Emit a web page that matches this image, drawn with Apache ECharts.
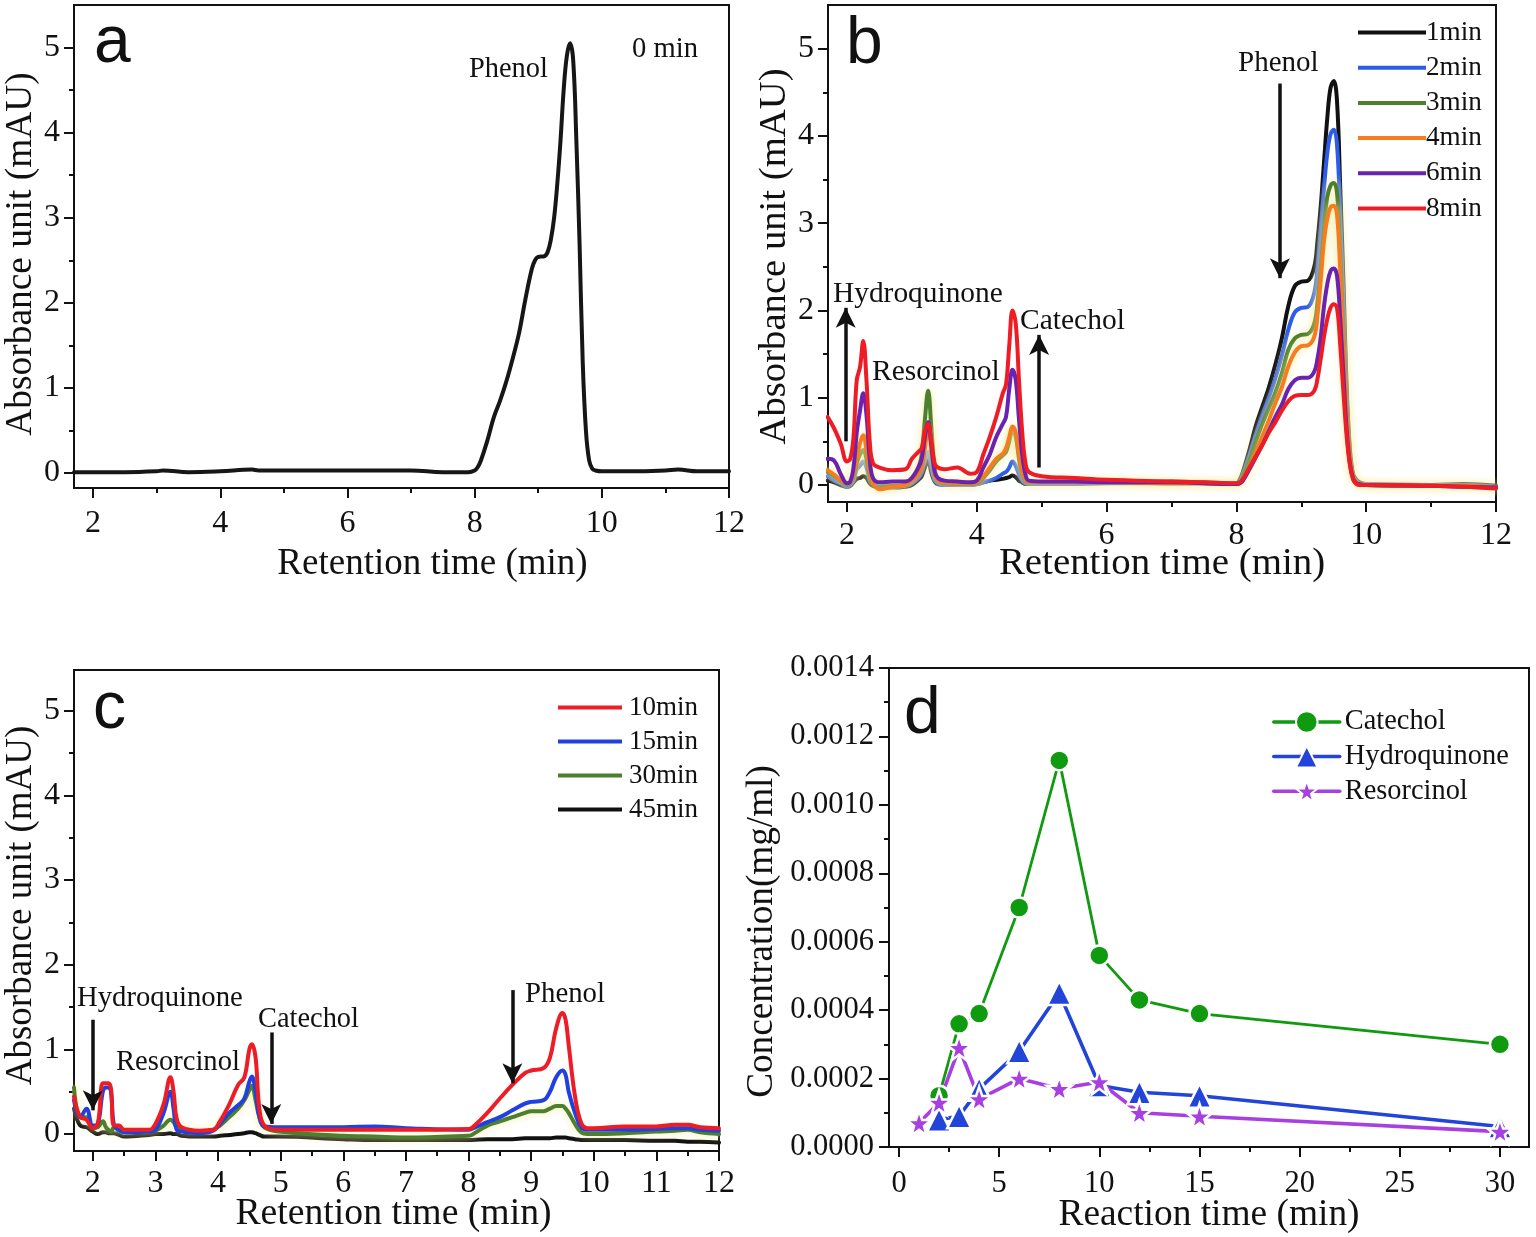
<!DOCTYPE html>
<html><head><meta charset="utf-8">
<script src="https://cdn.jsdelivr.net/npm/echarts@6/dist/echarts.min.js"></script>
<style>html,body{margin:0;padding:0;background:#fff}#c{width:1536px;height:1237px}</style>
</head><body><div id="c"></div>
<script>
// ---------- data ----------
const xA = [1.7,2,2.5,3,3.1,3.5,4,4.5,4.6,5,6,7,7.5,7.9,8,8.05,8.1,8.2,8.3,8.4,8.5,8.6,8.7,8.8,8.9,8.95,9,9.1,9.15,9.2,9.25,9.3,9.35,9.4,9.45,9.5,9.55,9.6,9.65,9.7,9.75,9.8,9.85,9.9,10,10.5,11,11.2,11.5,12];
const yA0 = [.01,.01,.01,.02,.03,.01,.02,.04,.03,.03,.03,.03,.01,.01,.03,.07,.15,.38,.65,.85,1.08,1.35,1.65,2.05,2.4,2.5,2.54,2.55,2.6,2.75,3.0,3.4,3.9,4.5,4.9,5.05,4.85,3.9,2.7,1.3,.5,.15,.05,.03,.02,.02,.03,.04,.02,.02];

const xB = [1.7,1.8,1.9,2.0,2.05,2.1,2.15,2.2,2.25,2.3,2.35,2.4,2.5,2.7,2.9,
 3.0,3.1,3.15,3.2,3.25,3.3,3.35,3.4,3.5,3.7,3.9,
 4.0,4.1,4.2,4.3,4.4,4.45,4.5,4.55,4.6,4.65,4.7,4.75,4.8,
 5,5.5,6,7,7.5,8,
 8.05,8.1,8.2,8.3,8.4,8.5,8.6,8.7,8.8,8.9,9.0,9.1,9.2,9.25,9.3,9.35,9.4,9.45,9.5,
 9.55,9.6,9.65,9.7,9.75,9.8,9.85,9.9,10,11,11.5,12];
const yB1 = [.05,.03,0,-.02,-.01,.03,.07,.08,.1,.08,.02,-.01,-.03,-.03,-.02,
 0,.06,.1,.2,.28,.14,.04,.01,0,0,0,
 .01,.03,.05,.06,.07,.08,.09,.11,.09,.05,.03,.01,.01,
 .01,.02,.03,.04,.03,.02,
 .06,.15,.4,.68,.9,1.12,1.38,1.68,2.05,2.28,2.33,2.34,2.5,2.8,3.2,3.7,4.2,4.55,4.63,
 4.4,3.4,2.3,1.1,.4,.12,.06,.03,.01,0,.01,-.01];
const yB2 = [.1,.05,.02,-.02,0,.05,.18,.22,.27,.2,.06,0,-.02,-.02,-.01,
 .02,.08,.14,.28,.38,.2,.06,.02,0,0,0,
 .01,.03,.05,.08,.13,.15,.2,.27,.22,.12,.05,.02,.01,
 .01,.01,.02,.02,.02,.01,
 .02,.12,.34,.58,.8,1.0,1.22,1.48,1.78,1.98,2.03,2.04,2.2,2.5,2.95,3.4,3.8,4.02,4.07,
 3.9,3.1,2.1,1.0,.35,.1,.04,.02,.01,0,0,-.02];
const yB3 = [.15,.1,.05,0,.02,.1,.25,.35,.4,.3,.1,0,-.02,-.01,0,
 .08,.2,.35,.75,1.08,.65,.2,.06,.02,.01,.01,
 .02,.08,.17,.27,.34,.38,.5,.62,.55,.3,.12,.05,.03,
 .03,.03,.03,.02,.02,.01,
 .02,.1,.28,.5,.7,.88,1.06,1.28,1.55,1.68,1.72,1.73,1.85,2.1,2.5,2.95,3.3,3.43,3.46,
 3.35,2.65,1.75,.85,.32,.09,.03,.01,0,-.01,-.01,-.03];
const yB4 = [.17,.12,.06,.02,.03,.12,.3,.48,.57,.4,.15,.02,-.05,-.02,0,
 .05,.12,.2,.42,.65,.4,.12,.05,.03,.02,.02,
 .03,.1,.2,.3,.36,.42,.55,.67,.6,.35,.15,.06,.03,
 .03,.03,.03,.02,.02,.01,
 .02,.06,.2,.38,.56,.74,.94,1.12,1.36,1.52,1.59,1.6,1.7,1.95,2.35,2.8,3.05,3.18,3.2,
 3.1,2.45,1.6,.8,.3,.08,.03,.01,0,-.01,-.01,-.03];
const yB6 = [.3,.28,.13,.02,.04,.2,.6,.85,1.05,.8,.3,.08,.03,.04,.04,
 .08,.2,.3,.55,.72,.45,.15,.08,.05,.04,.03,
 .05,.2,.35,.55,.7,.78,1.1,1.32,1.2,.75,.35,.12,.05,
 .04,.04,.03,.03,.02,.01,
 .02,.05,.18,.32,.46,.62,.78,.92,1.1,1.2,1.23,1.23,1.3,1.45,1.7,2.05,2.3,2.45,2.48,
 2.4,1.9,1.25,.62,.24,.07,.02,.01,0,-.01,-.02,-.03];
const yB8 = [.78,.65,.48,.27,.3,.55,1.2,1.35,1.65,1.2,.5,.25,.2,.17,.18,
 .3,.38,.42,.62,.7,.5,.25,.2,.18,.2,.13,
 .15,.35,.55,.78,1.05,1.15,1.6,2.0,1.85,1.2,.6,.25,.15,
 .1,.08,.06,.04,.03,.02,
 .03,.07,.2,.33,.46,.6,.72,.85,.96,1.02,1.03,1.03,1.08,1.22,1.45,1.7,1.9,2.03,2.07,
 2.03,1.6,1.05,.55,.22,.06,.01,0,0,-.01,-.02,-.04];

const xC = [1.7,1.8,1.9,2.0,2.08,2.16,2.21,2.25,2.29,2.34,2.42,2.5,2.9,
 3.0,3.13,3.24,3.29,3.34,3.42,3.7,3.92,
 4.03,4.18,4.32,4.42,4.5,4.54,4.6,4.66,4.74,4.97,
 6,6.5,7,8,
 8.05,8.3,8.5,8.7,8.9,9,9.2,9.3,9.4,9.5,9.55,9.6,9.7,9.8,9.9,10,10.5,11,11.3,11.5,11.7,12];
const yC10 = [.44,.2,.17,.07,.12,.6,.6,.6,.54,.1,.1,.05,.05,
 .12,.35,.67,.5,.18,.08,.04,.05,
 .15,.35,.58,.67,1.0,1.06,.9,.3,.1,.05,
 .05,.05,.05,.06,
 .07,.25,.42,.58,.72,.75,.78,.9,1.25,1.43,1.35,1.05,.45,.13,.07,.07,.09,.09,.11,.11,.08,.07];
const yC15 = [.4,.2,.3,.1,.12,.5,.55,.55,.5,.1,.05,.02,.03,
 .05,.25,.5,.3,.05,.03,.01,.04,
 .12,.25,.34,.42,.62,.68,.5,.2,.09,.08,
 .08,.09,.07,.05,
 .06,.14,.2,.28,.36,.38,.4,.5,.67,.75,.7,.5,.25,.08,.05,.05,.05,.06,.07,.07,.05,.04];
const yC30 = [.55,.2,.2,.07,.08,.15,.08,.05,.03,.08,.04,.03,.03,
 .04,.1,.17,.14,.08,.04,.03,.05,
 .1,.2,.3,.4,.52,.57,.4,.2,.08,.03,
 -.02,-.03,-.04,-.02,
 -.01,.1,.15,.2,.25,.27,.27,.3,.33,.33,.3,.25,.12,.02,0,0,.01,.03,.04,.05,.02,0];
const yC45 = [.3,.1,.08,.03,0,.02,.02,.01,.01,.01,-.01,-.03,-.01,
 0,0,.01,0,0,-.02,-.03,-.03,
 -.02,-.01,0,.01,.02,.02,.01,-.01,-.03,-.03,
 -.06,-.07,-.07,-.07,
 -.07,-.06,-.06,-.06,-.05,-.05,-.05,-.05,-.04,-.04,-.04,-.05,-.06,-.07,-.07,-.07,-.07,-.08,-.08,-.09,-.09,-.1];

const xCat = [2,3,4,6,8,10,12,15,30];
const yCat = [.00015,.00036,.00039,.0007,.00113,.00056,.00043,.00039,.0003];
const xHyd = [2,3,4,6,8,10,12,15,30];
const yHyd = [.00008,.00009,.00017,.00028,.00045,.00018,.00016,.00015,.00006];
const xRes = [1,2,3,4,6,8,10,12,15,30];
const yRes = [.00007,.00013,.00029,.00014,.0002,.00017,.00019,.0001,.00009,.000045];

const xMajor = [2,4,6,8,10,12], xMinor = [3,5,7,9,11];
const xMajorC = [2,3,4,5,6,7,8,9,10,11,12], xMinorC = [2.5,3.5,4.5,5.5,6.5,7.5,8.5,9.5,10.5,11.5];
const yMajor = [0,1,2,3,4,5], yMinor = [.5,1.5,2.5,3.5,4.5];
const xMajorD = [0,5,10,15,20,25,30], xMinorD = [2.5,7.5,12.5,17.5,22.5,27.5];
const yMajorD = [0,.0002,.0004,.0006,.0008,.001,.0012,.0014], yMinorD = [.0001,.0003,.0005,.0007,.0009,.0011,.0013];

const arrowsB = [[1.98,.5,1.98,2.03],[4.96,.2,4.96,1.72],[8.67,4.6,8.67,2.37]];
const arrowsC = [[2.0,1.35,2.0,.28],[4.85,1.2,4.85,.12],[8.7,1.7,8.7,.6]];

// ---------- chart ----------
const SERIF = '"Liberation Serif","Times New Roman",serif';
const grids=[], xAxes=[], yAxes=[], series=[], legends=[], graphics=[];
const zip=(x,y)=>x.map((v,i)=>[v,y[i]]);

function panel(o){
  const g=grids.length;
  grids.push({left:o.l,top:o.t,width:o.r-o.l,height:o.b-o.t,show:true,backgroundColor:'transparent',borderColor:'#111',borderWidth:2,containLabel:false,outerBoundsMode:'none'});
  const line={show:false,onZero:false};
  xAxes.push({type:'value',gridIndex:g,position:'bottom',min:o.x0,max:o.x1,splitLine:{show:false},
    axisLine:{show:true,onZero:false,lineStyle:{color:'#111',width:2}},
    axisTick:{show:true,length:10,inside:false,customValues:o.xM,lineStyle:{color:'#111',width:2}},
    axisLabel:{show:true,customValues:o.xM,margin:o.xMargin,color:'#111',fontFamily:SERIF,fontSize:o.tick,formatter:v=>String(v),hideOverlap:false},
    name:o.xName,nameLocation:'middle',nameGap:o.xGap,nameMoveOverlap:false,
    nameTextStyle:{color:'#111',fontFamily:SERIF,fontSize:o.xNameSize,padding:o.xPad||0}});
  xAxes.push({type:'value',gridIndex:g,position:'bottom',min:o.x0,max:o.x1,splitLine:{show:false},axisLine:line,
    axisTick:{show:true,length:5,customValues:o.xm,lineStyle:{color:'#111',width:2}},axisLabel:{show:false}});
  yAxes.push({type:'value',gridIndex:g,position:'left',min:o.y0,max:o.y1,splitLine:{show:false},
    axisLine:{show:true,onZero:false,lineStyle:{color:'#111',width:2}},
    axisTick:{show:true,length:10,customValues:o.yM,lineStyle:{color:'#111',width:2}},
    axisLabel:{show:true,customValues:o.yM,margin:o.yMargin,color:'#111',fontFamily:SERIF,fontSize:o.tick,formatter:o.yFmt||(v=>String(v)),hideOverlap:false},
    name:o.yName,nameLocation:'middle',nameGap:o.yGap,nameRotate:90,nameMoveOverlap:false,
    nameTextStyle:{color:'#111',fontFamily:SERIF,fontSize:o.yNameSize,padding:o.yPad||0}});
  yAxes.push({type:'value',gridIndex:g,position:'left',min:o.y0,max:o.y1,splitLine:{show:false},axisLine:line,
    axisTick:{show:true,length:5,customValues:o.ym,lineStyle:{color:'#111',width:2}},axisLabel:{show:false}});
  return xAxes.length-2;
}
function curve(ax,name,x,y,color,glow){
  series.push({type:'line',name,xAxisIndex:ax,yAxisIndex:ax,data:zip(x,y),showSymbol:false,symbol:'none',
    smooth:.4,color,silent:true,animation:false,
    lineStyle:Object.assign({color,width:4,cap:'round',join:'round'},glow?{shadowColor:'#f4eca0',shadowBlur:9}:{})});
}
function arrows(ax,list){
  series.push({type:'line',xAxisIndex:ax,yAxisIndex:ax,data:[],silent:true,animation:false,
    markLine:{silent:true,animation:false,symbol:['none','arrow'],symbolSize:[15,20],label:{show:false},emphasis:{disabled:true},
      lineStyle:{color:'#111',width:3.5,type:'solid'},
      data:list.map(a=>[{coord:[a[0],a[1]]},{coord:[a[2],a[3]]}])}});
}
function txt(t,x,y,size,fam){
  graphics.push({type:'text',left:x,top:y,silent:true,style:{text:t,fill:'#111',fontFamily:fam||SERIF,fontSize:size}});
}

const A=panel({l:74,r:729,t:5,b:488,x0:1.7,x1:12,y0:-.176,y1:5.5,xM:xMajor,xm:xMinor,yM:yMajor,ym:yMinor,tick:32,
  xMargin:20,yMargin:14,xName:'Retention time (min)',xNameSize:37,xGap:58,xPad:[0,0,0,62],
  yName:'Absorbance unit (mAU)',yNameSize:37.4,yGap:34,yPad:[0,15,0,0]});
curve(A,'0 min',xA,yA0,'#161616');

const B=panel({l:828,r:1496,t:5,b:502,x0:1.707,x1:12,y0:-.195,y1:5.5,xM:xMajor,xm:xMinor,yM:yMajor,ym:yMinor,tick:32,
  xMargin:18,yMargin:14,xName:'Retention time (min)',xNameSize:38.9,xGap:42,
  yName:'Absorbance unit (mAU)',yNameSize:38.7,yGap:34,yPad:[0,6,0,0]});
curve(B,'1min',xB,yB1,'#111111');
curve(B,'2min',xB,yB2,'#2d5ce6');
curve(B,'3min',xB,yB3,'#4c7f2e',true);
curve(B,'4min',xB,yB4,'#f57d20',true);
curve(B,'6min',xB,yB6,'#6a22b0');
curve(B,'8min',xB,yB8,'#ee1c25');
arrows(B,arrowsB);

const C=panel({l:74,r:719,t:670,b:1151,x0:1.7,x1:12,y0:-.2,y1:5.48,xM:xMajorC,xm:xMinorC,yM:yMajor,ym:yMinor,tick:32,
  xMargin:17,yMargin:14,xName:'Retention time (min)',xNameSize:37.7,xGap:44,xPad:[0,6,0,0],
  yName:'Absorbance unit (mAU)',yNameSize:37,yGap:34,yPad:[0,0,0,10]});
curve(C,'45min',xC,yC45,'#111111');
curve(C,'30min',xC,yC30,'#4c7f2e',true);
curve(C,'15min',xC,yC15,'#2040e0');
curve(C,'10min',xC,yC10,'#ee1c25');
arrows(C,arrowsC);

const D=panel({l:889,r:1529,t:668,b:1147,x0:-.5,x1:31.45,y0:0,y1:.0014,xM:xMajorD,xm:xMinorD,yM:yMajorD,ym:yMinorD,tick:30.5,
  xMargin:21,yMargin:15,xName:'Reaction time (min)',xNameSize:37.4,xGap:50,
  yName:'Concentration(mg/ml)',yNameSize:37.2,yGap:108,yPad:[0,48,0,0],yFmt:v=>v.toFixed(4)});
function marked(ax,name,x,y,color,sym,size,lw){
  series.push({type:'line',name,xAxisIndex:ax,yAxisIndex:ax,data:zip(x,y),symbol:sym,symbolSize:size,showSymbol:true,
    silent:true,animation:false,color,
    lineStyle:{color,width:lw,cap:'round'},itemStyle:{color,borderColor:'#fff',borderWidth:2.5}});
}
marked(D,'Catechol',xCat,yCat,'#109a10','circle',20,2.8);
marked(D,'Hydroquinone',xHyd,yHyd,'#2244d8','triangle',24,3.6);
marked(D,'Resorcinol',xRes,yRes,'#a83fe0','path://M50 0 L62 35 L98 35 L69 57 L79 92 L50 71 L21 92 L31 57 L2 35 L38 35 Z',25,3.6);

legends.push({left:1358,top:19,padding:0,orient:'vertical',icon:'rect',itemWidth:68,itemHeight:4,itemGap:8.2,
  data:['1min','2min','3min','4min','6min','8min'],selectedMode:false,
  textStyle:{fontFamily:SERIF,fontSize:27.2,color:'#111',padding:[0,0,0,-5]}});
legends.push({left:558,top:694,padding:0,orient:'vertical',icon:'rect',itemWidth:64,itemHeight:4,itemGap:7,
  data:['10min','15min','30min','45min'],selectedMode:false,
  textStyle:{fontFamily:SERIF,fontSize:27,color:'#111',padding:[0,0,0,2]}});
legends.push({left:1272,top:708,padding:0,orient:'vertical',itemWidth:66,itemHeight:27,itemGap:6.6,
  data:['Catechol','Hydroquinone','Resorcinol'],selectedMode:false,
  lineStyle:{width:3.5},itemStyle:{borderColor:'#fff',borderWidth:2},
  textStyle:{fontFamily:SERIF,fontSize:28.4,color:'#111'}});

const SANS='"Liberation Sans",Arial,sans-serif';
txt('a',94,11,66,SANS); txt('b',846,12,66,SANS); txt('c',93,677,66,SANS); txt('d',904,682,66,SANS);
txt('Phenol',469,56,28.4); txt('0 min',632,35,28.6);
txt('Hydroquinone',833,280,29.4); txt('Resorcinol',872,357,29.5); txt('Catechol',1020,306,29.5); txt('Phenol',1238,49,29);
txt('Hydroquinone',77,984,28.7); txt('Resorcinol',116,1048,28.6); txt('Catechol',258,1006,28.4); txt('Phenol',525,980,28.8);

const chart=echarts.init(document.getElementById('c'),null,{renderer:'canvas'});
chart.setOption({animation:false,backgroundColor:'#fff',grid:grids,xAxis:xAxes,yAxis:yAxes,series,legend:legends,graphic:graphics,tooltip:{show:false}});
</script></body></html>
